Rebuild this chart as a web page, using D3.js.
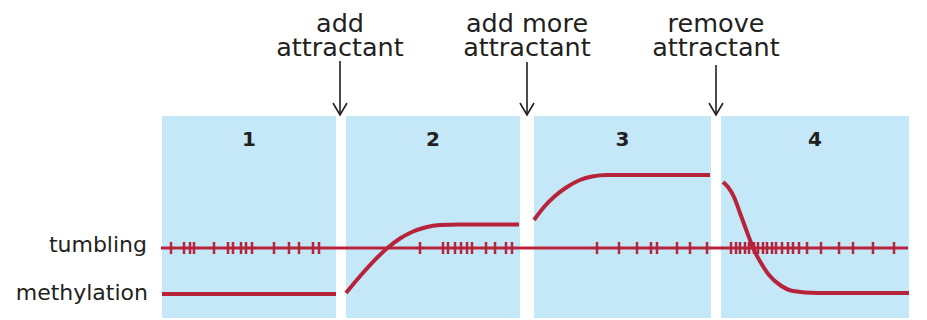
<!DOCTYPE html>
<html>
<head>
<meta charset="utf-8">
<script src="https://cdn.jsdelivr.net/npm/d3@7"></script>
<style>
  body { margin: 0; background: #fff; }
  text { font-family: "DejaVu Sans", Verdana, sans-serif; fill: #231f20; }
</style>
</head>
<body>
<script>
const WIDTH = 927;
const HEIGHT = 320;
const RED = "#b7233a";
const BLUE = "#c5e8f9";

// panels as [start, end] in time units
const panels = [[0, 174], [184, 358], [372, 549], [559, 747]];
const panelNames = ["1", "2", "3", "4"];

// events: time, label lines
const events = [
  {t: 178, lines: ["add", "attractant"], top: 61},
  {t: 365, lines: ["add more", "attractant"], top: 62},
  {t: 554, lines: ["remove", "attractant"], top: 65}
];

// methylation level per panel, [time, level]
const methyl1 = [[0, 24], [174, 24]];
const methyl2 = [[184, 25], [198, 41.8], [212, 57.2], [226, 70.5], [238, 79.5], [250, 86],
                 [263, 90.5], [278, 93], [298, 93.5], [357, 93.5]];
const methyl3 = [[372, 98], [382, 111], [393, 122], [405, 131], [418, 138], [430, 141.5],
                 [445, 143], [548, 143]];
const methyl4 = [[561, 136], [566, 131], [572, 121], [578, 105], [585, 86], [592, 68],
                 [599, 55], [607, 43], [618, 33], [631, 27], [655, 25], [747, 25]];

// tumbling events (times)
const tumbles = [9, 22, 28, 32, 52, 66, 71, 79, 84, 90, 112, 127, 137, 151, 157,
                 258, 281, 286, 293, 299, 305, 310, 324, 333, 344, 350,
                 435, 457, 475, 489, 495, 515, 528, 545,
                 569, 574, 578, 583, 587, 592, 596, 601, 605, 610, 614, 620, 626,
                 631, 637, 645, 659, 677, 691, 711, 732];
const tumbleLevel = 70;

const x = d3.scaleLinear().domain([0, 747]).range([162, 909]);
const y = d3.scaleLinear().domain([0, 202]).range([318, 116]);

const svg = d3.select("body").append("svg")
              .attr("width", WIDTH)
              .attr("height", HEIGHT);

// panels
svg.append("g").selectAll("rect")
   .data(panels)
   .join("rect")
   .attr("x", d => x(d[0]))
   .attr("y", y(202))
   .attr("width", d => x(d[1]) - x(d[0]))
   .attr("height", y(0) - y(202))
   .attr("fill", BLUE);

svg.append("g").selectAll("text")
   .data(panels)
   .join("text")
   .attr("x", d => x((d[0] + d[1]) / 2))
   .attr("y", 146)
   .attr("text-anchor", "middle")
   .attr("font-size", 20)
   .attr("font-weight", "bold")
   .text((d, i) => panelNames[i]);

// tumbling line + ticks
svg.append("line")
   .attr("x1", x(-1)).attr("x2", x(746))
   .attr("y1", y(tumbleLevel)).attr("y2", y(tumbleLevel))
   .attr("stroke", RED)
   .attr("stroke-width", 3);

svg.append("g").selectAll("line")
   .data(tumbles)
   .join("line")
   .attr("x1", d => x(d)).attr("x2", d => x(d))
   .attr("y1", y(tumbleLevel) - 6).attr("y2", y(tumbleLevel) + 6)
   .attr("stroke", RED)
   .attr("stroke-width", 2.5);

// methylation curves
const line = d3.line()
               .x(d => x(d[0]))
               .y(d => y(d[1]))
               .curve(d3.curveMonotoneX);

svg.append("g").selectAll("path")
   .data([methyl1, methyl2, methyl3, methyl4])
   .join("path")
   .attr("d", line)
   .attr("fill", "none")
   .attr("stroke", RED)
   .attr("stroke-width", 4);

// row labels
svg.append("text")
   .attr("x", 147).attr("y", 252)
   .attr("text-anchor", "end")
   .attr("font-size", 22)
   .text("tumbling");

svg.append("text")
   .attr("x", 148).attr("y", 300)
   .attr("text-anchor", "end")
   .attr("font-size", 22)
   .text("methylation");

// event arrows
const ev = svg.append("g").selectAll("g")
              .data(events)
              .join("g");

ev.selectAll("text")
  .data(d => d.lines.map((l, i) => ({t: d.t, l, i})))
  .join("text")
  .attr("x", d => x(d.t))
  .attr("y", d => 32 + d.i * 24)
  .attr("text-anchor", "middle")
  .attr("font-size", 25.5)
  .text(d => d.l);

ev.append("line")
  .attr("x1", d => x(d.t)).attr("x2", d => x(d.t))
  .attr("y1", d => d.top).attr("y2", 115)
  .attr("stroke", "#231f20")
  .attr("stroke-width", 1.6);

ev.append("path")
  .attr("d", d => `M${x(d.t) - 7},${103} L${x(d.t)},${115} L${x(d.t) + 7},${103}`)
  .attr("fill", "none")
  .attr("stroke", "#231f20")
  .attr("stroke-width", 1.6);
</script>
</body>
</html>
